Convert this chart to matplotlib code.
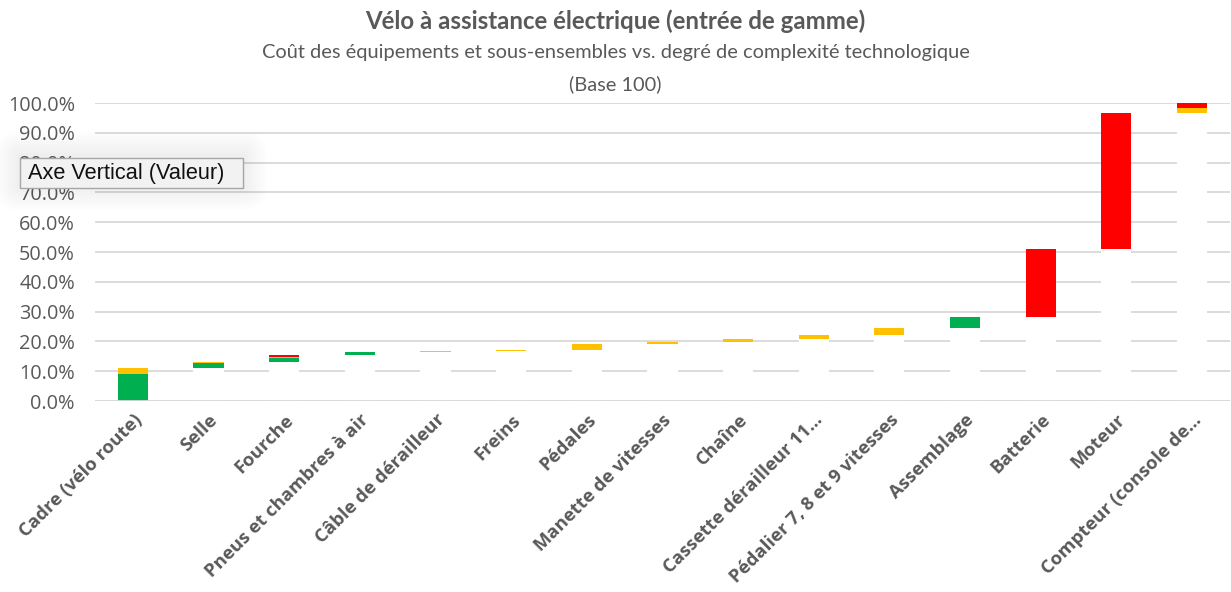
import numpy as np
import matplotlib.pyplot as plt
from matplotlib.patches import FancyBboxPatch

categories = [
    "Cadre (vélo route)", "Selle", "Fourche", "Pneus et chambres à air",
    "Câble de dérailleur", "Freins", "Pédales", "Manette de vitesses",
    "Chaîne", "Cassette dérailleur 11...", "Pédalier 7, 8 et 9 vitesses",
    "Assemblage", "Batterie", "Moteur", "Compteur (console de...",
]
# share of total cost (%), split by technological complexity
green = [9.0, 1.6, 1.2, 0.9, 0, 0, 0, 0, 0, 0, 0, 3.7, 0, 0, 0]
yellow = [2.2, 0.3, 0.6, 0, 0.3, 0.4, 2.0, 0.8, 0.9, 1.5, 2.2, 0, 0, 0, 1.6]
red = [0, 0, 0.6, 0, 0, 0, 0, 0, 0, 0, 0, 0, 22.8, 45.7, 1.7]

GREEN, YELLOW, RED = "#00B050", "#FFC000", "#FF0000"
GRAY_TXT = "#595959"

green = np.array(green) / 100
yellow = np.array(yellow) / 100
red = np.array(red) / 100
step = green + yellow + red
base = np.concatenate([[0], np.cumsum(step)[:-1]])

fig = plt.figure(figsize=(12.31, 5.92), dpi=100)
ax = fig.add_axes([0.0772, 0.3226, 0.9218, 0.5034])
x = np.arange(len(categories))
w = 0.40

ax.bar(x, base, w, color="white", zorder=2)
ax.bar(x, green, w, bottom=base, color=GREEN, zorder=3)
ax.bar(x, yellow, w, bottom=base + green, color=YELLOW, zorder=3)
ax.bar(x, red, w, bottom=base + green + yellow, color=RED, zorder=3)

ax.set_xlim(-0.5, len(categories) - 0.5)
ax.set_ylim(0, 1.0)
yt = np.arange(0, 1.01, 0.1)
ax.set_yticks(yt)
ax.set_yticklabels([f"{v*100:.1f}%" for v in yt], fontfamily="Open Sans")
ax.yaxis.grid(True, color="#D9D9D9", linewidth=1.3, zorder=1)
ax.set_axisbelow(True)
ax.axhline(0, color="#D9D9D9", linewidth=1.3, zorder=4)
for s in ax.spines.values():
    s.set_visible(False)
ax.tick_params(axis="both", length=0)
ax.tick_params(axis="y", labelsize=14.3, labelcolor=GRAY_TXT, pad=14.5)

ax.set_xticks(x)
ax.set_xticklabels(categories, rotation=45, ha="right", rotation_mode="anchor",
                   fontsize=13.3, fontweight="bold", color=GRAY_TXT, fontfamily="Open Sans")
ax.tick_params(axis="x", pad=7)

fig.text(0.5, 0.964, "Vélo à assistance électrique (entrée de gamme)", ha="center", va="center",
         fontsize=17.3, fontweight="bold", color=GRAY_TXT, family="Lato")
fig.text(0.5, 0.911, "Coût des équipements et sous-ensembles vs. degré de complexité technologique",
         ha="center", va="center", fontsize=14.4, color=GRAY_TXT, family="Lato")
fig.text(0.5, 0.857, "(Base 100)", ha="center", va="center", fontsize=14.4, color=GRAY_TXT,
         family="Lato")

# tooltip left over in the screenshot
for i in range(8):
    pad = 24 - i * 3
    fig.patches.append(FancyBboxPatch((20 - pad, 592 - 188 - pad + 2), 223 + 2 * pad, 30 + 2 * pad,
                                      boxstyle="round,pad=0,rounding_size=%d" % max(pad, 1),
                                      transform=None, facecolor="black", edgecolor="none",
                                      alpha=0.009, zorder=9))
fig.patches.append(FancyBboxPatch((20, 592 - 188), 223, 30, boxstyle="square,pad=0", transform=None,
                                  facecolor="#F2F2F2", edgecolor="#A6A6A6", linewidth=1, zorder=10))
fig.text(28 / 1231, 1 - 173 / 592, "Axe Vertical (Valeur)", ha="left", va="center",
         fontsize=15.7, color="#111111", zorder=11, family="Liberation Sans")

fig.savefig("out.png", dpi=100)
